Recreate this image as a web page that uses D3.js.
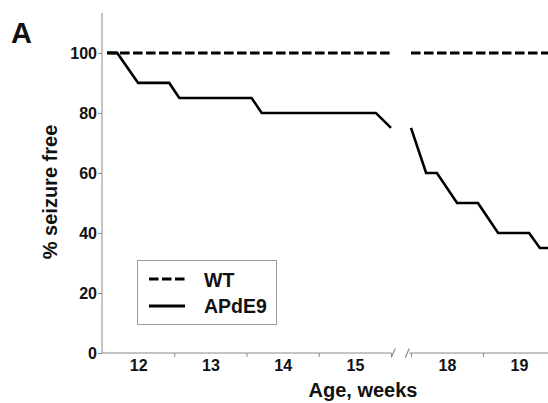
<!DOCTYPE html>
<html>
<head>
<meta charset="utf-8">
<script src="https://cdn.jsdelivr.net/npm/d3@7"></script>
<style>
  html, body { margin: 0; padding: 0; background: #fff; }
  svg { display: block; font-family: "Liberation Sans", Arial, sans-serif; }
</style>
</head>
<body>
<svg id="chart" width="548" height="403"></svg>
<script>
// ---- data (age in weeks, % seizure free) ----
const apWeeksEarly = [11.57, 11.71, 12.0, 12.43, 12.57, 13.57, 13.71, 15.29, 15.5];
const apValsEarly  = [100, 100, 90, 90, 85, 85, 80, 80, 75];
const apWeeksLate  = [17.5, 17.71, 17.86, 18.14, 18.43, 18.71, 19.14, 19.29, 19.7];
const apValsLate   = [75, 60, 60, 50, 50, 40, 40, 35, 35];
const wtWeeksEarly = [11.57, 15.5];
const wtValsEarly  = [100, 100];
const wtWeeksLate  = [17.5, 19.7];
const wtValsLate   = [100, 100];
const xLabels = [12, 13, 14, 15, 18, 19];
const xTickBounds = [12.5, 13.5, 14.5, 15.5, 17.5, 18.5];
const yTicks = [0, 20, 40, 60, 80, 100];
const seriesNames = ["WT", "APdE9"];

const svg = d3.select("#chart");
const ink = "#111";
const axisCol = "#8a8a8a";

// broken x scale: weeks 11.5–15.5, gap, 17.5–19.5
const x = d3.scaleLinear().domain([11.5, 15.5, 17.5, 19.5]).range([102, 391, 411, 555]);
const y = d3.scaleLinear().domain([0, 113.3]).range([353, 13]);

// ---- y axis ----
const yAxis = svg.append("g").attr("transform", `translate(${x(11.5)},0)`)
  .call(d3.axisLeft(y).tickValues(yTicks).tickSize(4).tickPadding(1).tickFormat(d3.format("d")));
yAxis.select(".domain").remove();
yAxis.selectAll(".tick line").attr("stroke", axisCol);
yAxis.selectAll(".tick text").attr("fill", ink).style("font-size", "16px").style("font-weight", "bold")
  .style("font-family", "'Liberation Sans', Arial, sans-serif");
svg.append("line").attr("x1", x(11.5)).attr("x2", x(11.5)).attr("y1", y(113.3)).attr("y2", y(0))
  .attr("stroke", axisCol).attr("stroke-width", 1);

// ---- x axis ----
const xAxisTicks = svg.append("g").attr("transform", `translate(0,${y(0)})`)
  .call(d3.axisBottom(x).tickValues(xTickBounds).tickSize(4).tickFormat(""));
xAxisTicks.select(".domain").remove();
xAxisTicks.selectAll(".tick line").attr("stroke", axisCol);

const xAxisLabels = svg.append("g").attr("transform", `translate(0,${y(0)})`)
  .call(d3.axisBottom(x).tickValues(xLabels).tickSize(0).tickPadding(7).tickFormat(d3.format("d")));
xAxisLabels.select(".domain").remove();
xAxisLabels.selectAll(".tick text").attr("fill", ink).style("font-size", "16px").style("font-weight", "bold")
  .style("font-family", "'Liberation Sans', Arial, sans-serif");

// axis line pieces with break marks
const y0 = y(0);
svg.append("line").attr("x1", x(11.5)).attr("x2", x(15.53)).attr("y1", y0).attr("y2", y0)
  .attr("stroke", axisCol).attr("stroke-width", 1);
svg.append("line").attr("x1", x(17.33)).attr("x2", 548).attr("y1", y0).attr("y2", y0)
  .attr("stroke", axisCol).attr("stroke-width", 1);
[x(15.53) + 2, x(17.33) - 2].forEach(cx => {
  svg.append("line").attr("x1", cx - 2).attr("y1", y0 + 4.5).attr("x2", cx + 2).attr("y2", y0 - 4.5)
    .attr("stroke", axisCol).attr("stroke-width", 1.2);
});

// ---- lines ----
const line = d3.line().x(d => x(d[0])).y(d => y(d[1]));
const zip = (a, b) => a.map((v, i) => [v, b[i]]);

svg.append("path").datum(zip(wtWeeksEarly, wtValsEarly)).attr("d", line)
  .attr("fill", "none").attr("stroke", "#000").attr("stroke-width", 3).attr("stroke-dasharray", "9.5,3.5");
svg.append("path").datum(zip(wtWeeksLate, wtValsLate)).attr("d", line)
  .attr("fill", "none").attr("stroke", "#000").attr("stroke-width", 3).attr("stroke-dasharray", "9.5,3.5");
svg.append("path").datum(zip(apWeeksEarly, apValsEarly)).attr("d", line)
  .attr("fill", "none").attr("stroke", "#000").attr("stroke-width", 2.6).attr("stroke-linejoin", "miter");
svg.append("path").datum(zip(apWeeksLate, apValsLate)).attr("d", line)
  .attr("fill", "none").attr("stroke", "#000").attr("stroke-width", 2.6).attr("stroke-linejoin", "miter");

// ---- legend ----
const lg = svg.append("g");
lg.append("rect").attr("x", 137.5).attr("y", 260.5).attr("width", 139).attr("height", 64)
  .attr("fill", "#fff").attr("stroke", "#9a9a9a").attr("stroke-width", 1);
lg.append("line").attr("x1", 149).attr("x2", 185).attr("y1", 279).attr("y2", 279)
  .attr("stroke", "#000").attr("stroke-width", 3).attr("stroke-dasharray", "9.5,3.5");
lg.append("line").attr("x1", 149).attr("x2", 185).attr("y1", 306).attr("y2", 306)
  .attr("stroke", "#000").attr("stroke-width", 2.8);
lg.selectAll("text.lab").data(seriesNames).enter().append("text")
  .attr("x", 204).attr("y", (d, i) => 287 + i * 26)
  .attr("fill", ink).style("font-size", "19.5px").style("font-weight", "bold").text(d => d);

// ---- titles ----
svg.append("text").attr("x", 11).attr("y", 43).attr("fill", ink)
  .style("font-size", "29px").style("font-weight", "bold").text("A");
svg.append("text").attr("transform", "translate(57,192) rotate(-90)").attr("text-anchor", "middle")
  .attr("fill", ink).style("font-size", "20px").style("font-weight", "bold").text("% seizure free");
svg.append("text").attr("x", 363).attr("y", 397).attr("text-anchor", "middle")
  .attr("fill", ink).style("font-size", "20px").style("font-weight", "bold").text("Age, weeks");
</script>
</body>
</html>
